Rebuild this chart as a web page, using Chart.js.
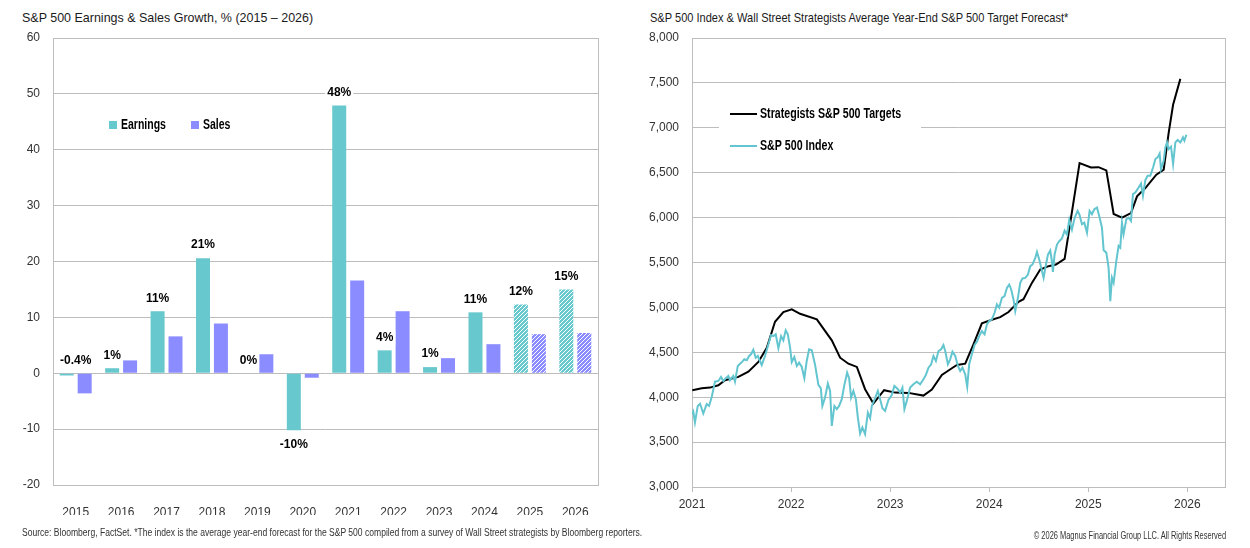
<!DOCTYPE html>
<html>
<head>
<meta charset="utf-8">
<title>S&amp;P 500 Earnings, Sales and Targets</title>
<script src="https://cdn.jsdelivr.net/npm/chart.js@4.4.1/dist/chart.umd.min.js"></script>
<style>
    body {
        margin: 0;
        width: 1250px;
        height: 548px;
        background: #fff;
        position: relative;
        overflow: hidden;
        font-family: "Liberation Sans", Arial, sans-serif;
    }
    .title {
        position: absolute;
        top: 10px;
        font-size: 13px;
        color: #1a1a1a;
        white-space: nowrap;
        transform-origin: left center;
    }
    #left-title { left: 22px; transform: scaleX(0.96); }
    #right-title { left: 650px; transform: scaleX(0.85); }
    .note {
        position: absolute;
        font-size: 10px;
        color: #333;
        white-space: nowrap;
    }
    #source-note { left: 22px; top: 527px; transform: scaleX(0.855); transform-origin: left center; }
    #copyright-note { right: 24px; top: 530px; transform: scaleX(0.745); transform-origin: right center; }
    canvas { position: absolute; top: 0; }
    #growth-chart { left: 0; }
    #target-chart { left: 625px; }
</style>
</head>
<body>
<div class="title" id="left-title">S&amp;P 500 Earnings &amp; Sales Growth, % (2015 – 2026)</div>
<div class="title" id="right-title">S&amp;P 500 Index &amp; Wall Street Strategists Average Year-End S&amp;P 500 Target Forecast*</div>
<canvas id="growth-chart" width="620" height="548"></canvas>
<canvas id="target-chart" width="625" height="548"></canvas>
<div class="note" id="source-note">Source: Bloomberg, FactSet. *The index is the average year-end forecast for the S&amp;P 500 compiled from a survey of Wall Street strategists by Bloomberg reporters.</div>
<div class="note" id="copyright-note">© 2026 Magnus Financial Group LLC. All Rights Reserved</div>

<script>
// ---- Left chart data: yearly growth, % ----
const years = ['2015', '2016', '2017', '2018', '2019', '2020', '2021', '2022', '2023', '2024', '2025', '2026'];
const forecastYears = ['2025', '2026'];
const earningsGrowth = [-0.4, 0.9, 11.1, 20.6, 0, -10.2, 47.9, 4.1, 1.1, 10.9, 12.3, 15.0];
const salesGrowth = [-3.6, 2.3, 6.6, 8.9, 3.4, -0.8, 16.6, 11.1, 2.7, 5.2, 7.0, 7.2];
const earningsLabels = ['-0.4%', '1%', '11%', '21%', '0%', '-10%', '48%', '4%', '1%', '11%', '12%', '15%'];

// ---- Right chart data: dates as decimal years ----
const targetDates = [2021.003, 2021.098, 2021.182, 2021.266, 2021.333, 2021.468, 2021.569, 2021.670, 2021.755, 2021.838,
    2021.922, 2022.007, 2022.091, 2022.260, 2022.411, 2022.495, 2022.579, 2022.664, 2022.747, 2022.831,
    2022.939, 2023.051, 2023.185, 2023.336, 2023.421, 2023.522, 2023.623, 2023.674, 2023.758, 2023.841,
    2023.926, 2024.027, 2024.111, 2024.195, 2024.296, 2024.346, 2024.431, 2024.515, 2024.599, 2024.674,
    2024.761, 2024.912, 2025.027, 2025.104, 2025.182, 2025.256, 2025.340, 2025.431, 2025.492, 2025.576,
    2025.687, 2025.761, 2025.811, 2025.856, 2025.929];
const targetValues = [4078, 4100, 4107, 4133, 4189, 4226, 4285, 4392, 4551, 4840,
    4948, 4978, 4929, 4867, 4633, 4440, 4373, 4337, 4089, 3929,
    4078, 4051, 4048, 4018, 4085, 4248, 4322, 4359, 4373, 4589,
    4822, 4862, 4892, 4948, 5063, 5092, 5273, 5422, 5459, 5478,
    5540, 6607, 6559, 6562, 6525, 6040, 6000, 6051, 6237, 6329,
    6478, 6533, 6941, 7256, 7545];

const indexDates = [2021.000, 2021.013, 2021.030, 2021.058, 2021.081, 2021.114, 2021.148, 2021.172, 2021.199, 2021.232,
    2021.266, 2021.293, 2021.316, 2021.340, 2021.367, 2021.384, 2021.417, 2021.434, 2021.462, 2021.485,
    2021.508, 2021.528, 2021.553, 2021.576, 2021.596, 2021.619, 2021.643, 2021.664, 2021.704, 2021.737,
    2021.771, 2021.798, 2021.821, 2021.845, 2021.872, 2021.899, 2021.922, 2021.946, 2021.967, 2021.990,
    2022.007, 2022.033, 2022.058, 2022.081, 2022.108, 2022.134, 2022.158, 2022.182, 2022.209, 2022.242,
    2022.276, 2022.300, 2022.316, 2022.343, 2022.371, 2022.394, 2022.411, 2022.437, 2022.462, 2022.485,
    2022.512, 2022.538, 2022.566, 2022.586, 2022.606, 2022.629, 2022.654, 2022.674, 2022.697, 2022.720,
    2022.747, 2022.775, 2022.798, 2022.815, 2022.848, 2022.876, 2022.899, 2022.922, 2022.949, 2022.983,
    2023.015, 2023.043, 2023.078, 2023.101, 2023.124, 2023.144, 2023.168, 2023.202, 2023.235, 2023.269,
    2023.303, 2023.336, 2023.361, 2023.387, 2023.414, 2023.437, 2023.462, 2023.488, 2023.515, 2023.538,
    2023.556, 2023.583, 2023.606, 2023.629, 2023.657, 2023.684, 2023.707, 2023.730, 2023.758, 2023.778,
    2023.798, 2023.825, 2023.852, 2023.876, 2023.899, 2023.926, 2023.953, 2023.977, 2024.000, 2024.027,
    2024.054, 2024.078, 2024.101, 2024.128, 2024.155, 2024.179, 2024.202, 2024.222, 2024.245, 2024.263,
    2024.290, 2024.313, 2024.336, 2024.364, 2024.391, 2024.414, 2024.437, 2024.465, 2024.482, 2024.505,
    2024.525, 2024.549, 2024.573, 2024.593, 2024.616, 2024.633, 2024.643, 2024.660, 2024.684, 2024.707,
    2024.734, 2024.761, 2024.785, 2024.808, 2024.835, 2024.862, 2024.892, 2024.912, 2024.936, 2024.960,
    2024.987, 2025.013, 2025.037, 2025.061, 2025.088, 2025.114, 2025.138, 2025.155, 2025.182, 2025.205,
    2025.222, 2025.239, 2025.256, 2025.283, 2025.306, 2025.323, 2025.340, 2025.356, 2025.384, 2025.407,
    2025.431, 2025.451, 2025.475, 2025.508, 2025.532, 2025.552, 2025.576, 2025.599, 2025.626, 2025.654,
    2025.677, 2025.700, 2025.720, 2025.734, 2025.761, 2025.778, 2025.795, 2025.811, 2025.835, 2025.856,
    2025.879, 2025.902, 2025.929, 2025.956, 2025.970, 2025.990];
const indexValues = [3811, 3840, 3718, 3903, 3927, 3818, 3922, 3903, 4003, 4173,
    4181, 4226, 4181, 4211, 4237, 4189, 4237, 4173, 4348, 4373,
    4396, 4422, 4411, 4459, 4478, 4529, 4440, 4459, 4359, 4459,
    4589, 4692, 4681, 4700, 4544, 4681, 4633, 4744, 4700, 4551,
    4392, 4448, 4348, 4385, 4337, 4211, 4403, 4533, 4522, 4362,
    4137, 4100, 3903, 3996, 4151, 4070, 3681, 3903, 3867, 3903,
    3978, 4137, 4273, 4211, 3996, 4070, 3978, 3773, 3596, 3662,
    3589, 3829, 3767, 3903, 3989, 4070, 3978, 3878, 3848, 3970,
    4020, 4126, 4089, 4051, 4107, 3867, 3959, 4107, 4144, 4173,
    4144, 4200, 4248, 4329, 4367, 4459, 4403, 4514, 4533, 4581,
    4514, 4367, 4422, 4507, 4459, 4348, 4292, 4329, 4255, 4115,
    4367, 4478, 4581, 4618, 4681, 4737, 4700, 4811, 4848, 4867,
    4940, 5033, 4996, 5107, 5126, 5218, 5255, 5200, 5089, 4959,
    5107, 5273, 5322, 5329, 5366, 5459, 5478, 5551, 5618, 5533,
    5440, 5329, 5478, 5589, 5633, 5514, 5396, 5589, 5700, 5737,
    5767, 5855, 5811, 5978, 5867, 5996, 6075, 6030, 5926, 5944,
    5833, 6075, 6038, 6093, 6112, 6000, 5888, 5636, 5610, 5442,
    5070, 5330, 5274, 5517, 5684, 5665, 5944, 5815, 5982, 6000,
    5963, 6261, 6279, 6335, 6379, 6242, 6417, 6465, 6465, 6558,
    6652, 6670, 6714, 6540, 6633, 6781, 6837, 6763, 6789, 6596,
    6837, 6864, 6837, 6893, 6856, 6923];
const dateTicks = [2021, 2022, 2023, 2024, 2025, 2026];

const TEAL = '#67C8CE';
const PURPLE = '#8B8CFF';
const INDEX_LINE = '#63C5CF';
const GRID = '#BDBDBD';
const LEGEND_FONT = 'bold 14px "Liberation Sans", Arial, sans-serif';

Chart.defaults.font.family = '"Liberation Sans", Arial, sans-serif';
Chart.defaults.font.size = 12;
Chart.defaults.color = '#333';

document.addEventListener('DOMContentLoaded', function() {
    createGrowthChart();
    createTargetChart();
});

// Diagonal hatch used for the forecast years
function makeHatch(color) {
    const tile = document.createElement('canvas');
    tile.width = 4;
    tile.height = 4;
    const g = tile.getContext('2d');
    g.fillStyle = color;
    g.fillRect(0, 0, 4, 4);
    g.strokeStyle = '#fff';
    g.lineWidth = 1;
    g.beginPath();
    g.moveTo(0, 4); g.lineTo(4, 0);
    g.moveTo(-1, 1); g.lineTo(1, -1);
    g.moveTo(3, 5); g.lineTo(5, 3);
    g.stroke();
    return g.createPattern(tile, 'repeat');
}

// Condensed bold text: no narrow face is installed, so squeeze horizontally
function narrowText(ctx, text, x, y, squeeze) {
    ctx.save();
    ctx.translate(x, y);
    ctx.scale(squeeze, 1);
    ctx.fillText(text, 0, 0);
    ctx.restore();
}

// Gray frame round the plot area
const plotFrame = {
    id: 'plotFrame',
    beforeDatasetsDraw(chart) {
        const a = chart.chartArea;
        const ctx = chart.ctx;
        ctx.save();
        ctx.strokeStyle = GRID;
        ctx.lineWidth = 1;
        ctx.strokeRect(Math.round(a.left) + 0.5, Math.round(a.top) + 0.5,
            Math.round(a.right - a.left), Math.round(a.bottom - a.top));
        ctx.restore();
    }
};

// Percent labels over the earnings bars
const earningsLabelPlugin = {
    id: 'earningsLabels',
    afterDatasetsDraw(chart) {
        const ctx = chart.ctx;
        const meta = chart.getDatasetMeta(0);
        ctx.save();
        ctx.font = 'bold 12px "Liberation Sans", Arial, sans-serif';
        ctx.textAlign = 'center';
        ctx.textBaseline = 'top';
        meta.data.forEach(function(bar, i) {
            const text = earningsLabels[i];
            const w = ctx.measureText(text).width;
            const x = Math.max(bar.x, chart.chartArea.left + w / 2 + 7);
            let top;
            if (earningsGrowth[i] >= -1) {
                top = Math.min(bar.y, bar.base) - 19;
            } else {
                top = Math.max(bar.y, bar.base) + 8;
            }
            ctx.fillStyle = '#fff';
            ctx.fillRect(x - w / 2 - 2, top - 1, w + 4, 15);
            ctx.fillStyle = '#000';
            ctx.fillText(text, x, top);
        });
        ctx.restore();
    }
};

const growthLegend = {
    id: 'growthLegend',
    afterDraw(chart) {
        const ctx = chart.ctx;
        ctx.save();
        ctx.font = 'bold 14px "Liberation Sans", Arial, sans-serif';
        ctx.textBaseline = 'middle';
        ctx.fillStyle = TEAL;
        ctx.fillRect(109, 121, 8, 8);
        ctx.fillStyle = PURPLE;
        ctx.fillRect(191, 121, 8, 8);
        ctx.fillStyle = '#000';
        narrowText(ctx, 'Earnings', 121, 125.5, 0.75);
        narrowText(ctx, 'Sales', 203, 125.5, 0.75);
        ctx.restore();
    }
};

const targetLegend = {
    id: 'targetLegend',
    afterDraw(chart) {
        const ctx = chart.ctx;
        ctx.save();
        ctx.fillStyle = '#fff';
        ctx.fillRect(94, 98, 202, 62);
        ctx.lineWidth = 2;
        ctx.strokeStyle = '#000';
        ctx.beginPath(); ctx.moveTo(105, 114); ctx.lineTo(132, 114); ctx.stroke();
        ctx.strokeStyle = INDEX_LINE;
        ctx.beginPath(); ctx.moveTo(105, 146); ctx.lineTo(132, 146); ctx.stroke();
        ctx.font = LEGEND_FONT;
        ctx.textBaseline = 'middle';
        ctx.fillStyle = '#000';
        narrowText(ctx, 'Strategists S&P 500 Targets', 135, 114.5, 0.76);
        narrowText(ctx, 'S&P 500 Index', 135, 146.5, 0.76);
        ctx.restore();
    }
};

function createGrowthChart() {
    const ctx = document.getElementById('growth-chart').getContext('2d');
    const tealHatch = makeHatch(TEAL);
    const purpleHatch = makeHatch(PURPLE);

    new Chart(ctx, {
        type: 'bar',
        data: {
            labels: years,
            datasets: [{
                label: 'Earnings',
                data: earningsGrowth,
                backgroundColor: years.map(y => forecastYears.includes(y) ? tealHatch : TEAL),
                categoryPercentage: 0.79,
                barPercentage: 0.78
            }, {
                label: 'Sales',
                data: salesGrowth,
                backgroundColor: years.map(y => forecastYears.includes(y) ? purpleHatch : PURPLE),
                categoryPercentage: 0.79,
                barPercentage: 0.78
            }]
        },
        options: {
            responsive: false,
            animation: false,
            layout: { padding: { left: 0, right: 22, top: 38, bottom: 33 } },
            plugins: {
                legend: { display: false },
                tooltip: { enabled: false }
            },
            scales: {
                x: {
                    grid: { display: false },
                    border: { display: false },
                    ticks: { padding: 12, color: '#333' },
                    afterFit: function(scale) { scale.height = 30; }
                },
                y: {
                    min: -20,
                    max: 60,
                    ticks: { stepSize: 10, padding: 13, color: '#333' },
                    grid: { color: GRID, drawTicks: false },
                    border: { display: false },
                    afterFit: function(scale) { scale.width = 53; }
                }
            }
        },
        plugins: [plotFrame, earningsLabelPlugin, growthLegend]
    });
}

function createTargetChart() {
    const ctx = document.getElementById('target-chart').getContext('2d');

    new Chart(ctx, {
        type: 'line',
        data: {
            datasets: [{
                label: 'S&P 500 Index',
                data: indexDates.map((d, i) => ({ x: d, y: indexValues[i] })),
                borderColor: INDEX_LINE,
                borderWidth: 2,
                pointRadius: 0,
                tension: 0,
                order: 1
            }, {
                label: 'Strategists S&P 500 Targets',
                data: targetDates.map((d, i) => ({ x: d, y: targetValues[i] })),
                borderColor: '#000',
                borderWidth: 2,
                pointRadius: 0,
                tension: 0,
                order: 2
            }]
        },
        options: {
            responsive: false,
            animation: false,
            layout: { padding: { left: 0, right: 25, top: 38, bottom: 31 } },
            plugins: {
                legend: { display: false },
                tooltip: { enabled: false }
            },
            scales: {
                x: {
                    type: 'linear',
                    min: 2021,
                    max: 2026.38,
                    afterBuildTicks: function(scale) {
                        scale.ticks = dateTicks.map(v => ({ value: v }));
                    },
                    ticks: {
                        padding: 5,
                        color: '#333',
                        callback: v => String(v)
                    },
                    grid: { drawOnChartArea: false, drawTicks: true, tickLength: 5, color: GRID },
                    border: { display: false },
                    afterFit: function(scale) { scale.height = 30; }
                },
                y: {
                    min: 3000,
                    max: 8000,
                    ticks: {
                        stepSize: 500,
                        padding: 13,
                        color: '#333',
                        callback: v => v.toLocaleString('en-US')
                    },
                    grid: { color: GRID, drawTicks: false },
                    border: { display: false },
                    afterFit: function(scale) { scale.width = 67; }
                }
            }
        },
        plugins: [plotFrame, targetLegend]
    });
}
</script>
</body>
</html>
